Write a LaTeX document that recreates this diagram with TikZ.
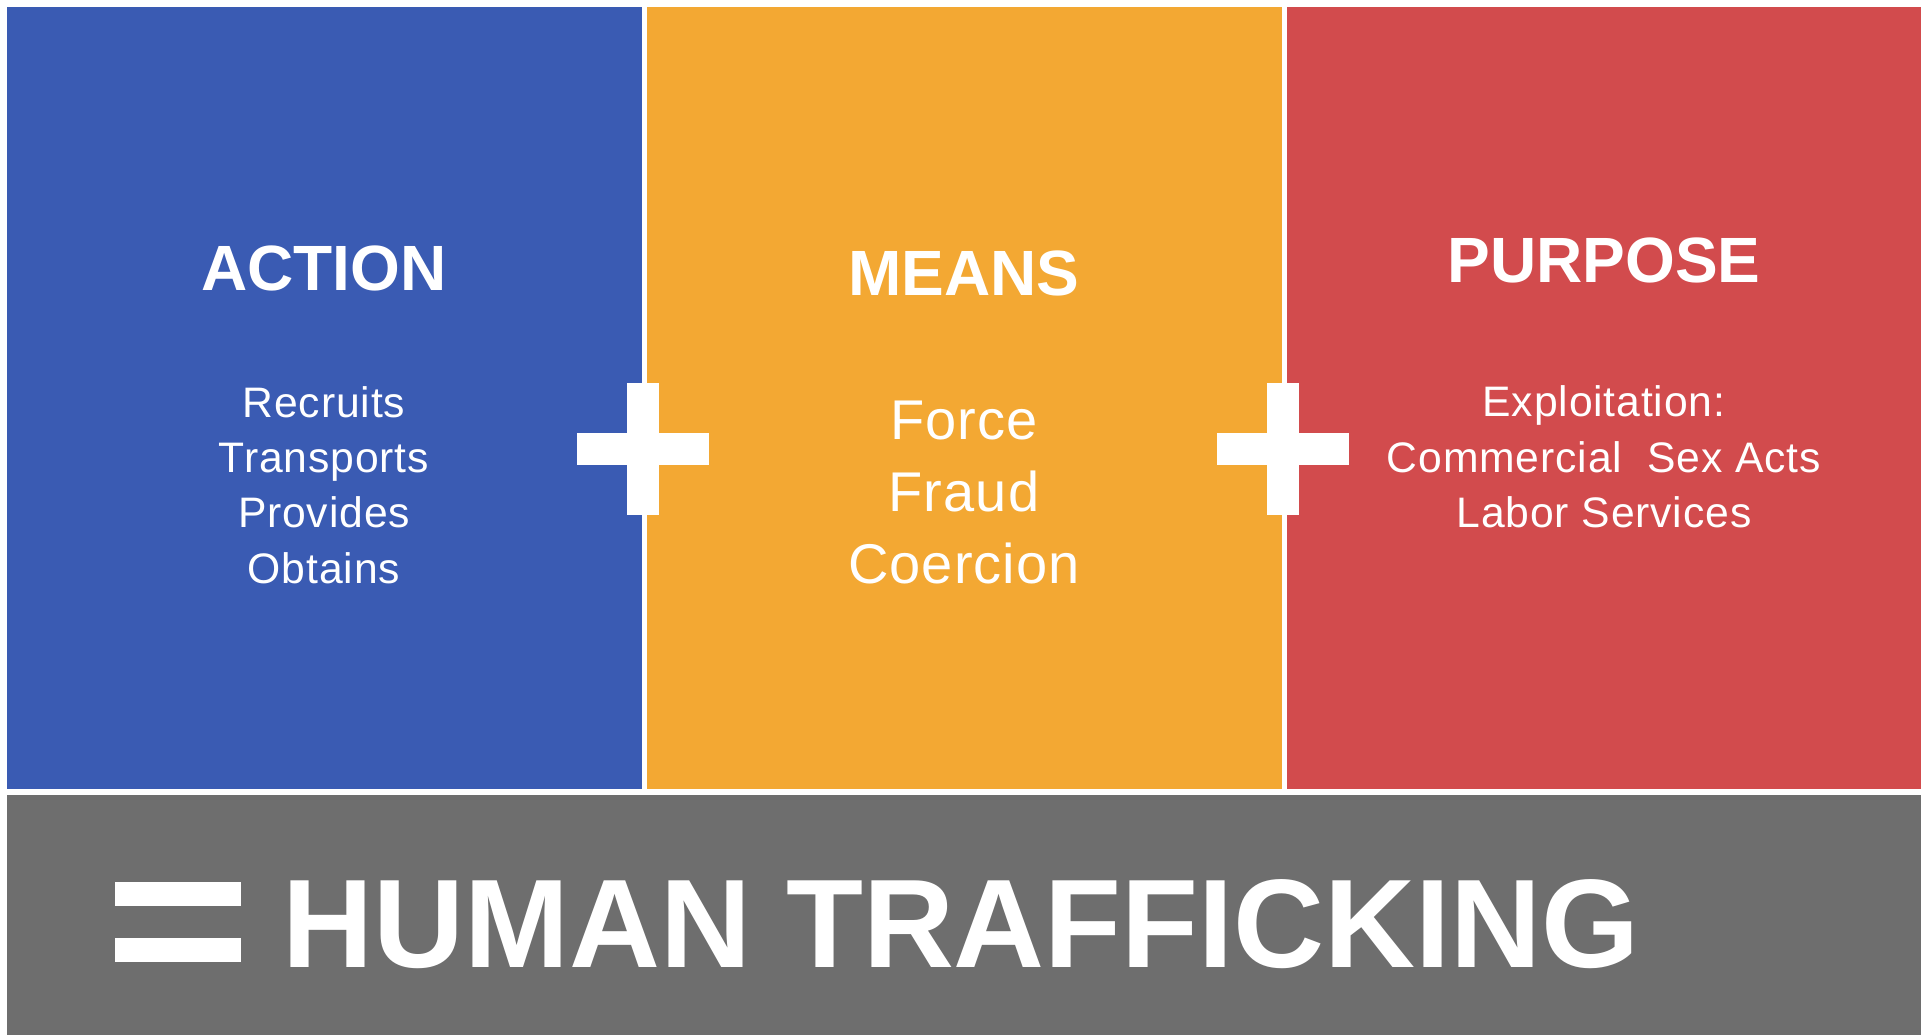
\documentclass[tikz,border=0pt]{standalone}
\usepackage{fontspec}
\setmainfont{Liberation Sans}
\usetikzlibrary{positioning}

\definecolor{actblue}{RGB}{58,91,179}
\definecolor{meanorange}{RGB}{243,168,51}
\definecolor{purpred}{RGB}{210,75,77}
\definecolor{sumgray}{RGB}{110,110,110}

\tikzset{
  head/.style={text=white,inner sep=0pt,anchor=base,font=\fontsize{48}{56}\selectfont\bfseries},
  body/.style={text=white,inner sep=0pt,align=center,font=\fontsize{32}{41.5}\selectfont\addfontfeature{LetterSpace=2}},
  bigbody/.style={text=white,inner sep=0pt,align=center,font=\fontsize{42}{54}\selectfont\addfontfeature{LetterSpace=2}},
}

\begin{document}
\begin{tikzpicture}[x=0.75pt,y=-0.75pt]
\useasboundingbox (0,0) rectangle (1921,1035);

% the three panels and the result bar
\fill[actblue] (7,7) rectangle (641.5,789.3);
\fill[meanorange] (647.3,7) rectangle (1281.7,789.3);
\fill[purpred] (1287.3,7) rectangle (1921,789.3);
\fill[sumgray] (7,795.3) rectangle (1921,1035);

% plus signs
\fill[white] (627.3,383.3) rectangle (659,515);
\fill[white] (577.3,433.3) rectangle (709,465);
\fill[white] (1267.3,383.3) rectangle (1299,515);
\fill[white] (1217.3,433.3) rectangle (1349,465);

% equals sign
\fill[white] (115,881.7) rectangle (241,905.7);
\fill[white] (115,937.7) rectangle (241,961.7);

\node[head] (action) at (324,290.7) {ACTION};
\node[head] (means) at (964,295) {MEANS};
\node[head] (purpose) at (1604,282.7) {PURPOSE};

\node[body] (acts) at (324,485) {Recruits\\Transports\\Provides\\Obtains};
\node[bigbody] (ways) at (964,492.5) {Force\\Fraud\\Coercion};
\node[body] (goals) at (1604,457) {Exploitation:\\Commercial~~Sex Acts\\Labor Services};

\node[text=white,inner sep=0pt,anchor=base west,font=\fontsize{94.5}{100}\selectfont\bfseries] (total) at (282,967) {HUMAN TRAFFICKING};
\end{tikzpicture}
\end{document}
